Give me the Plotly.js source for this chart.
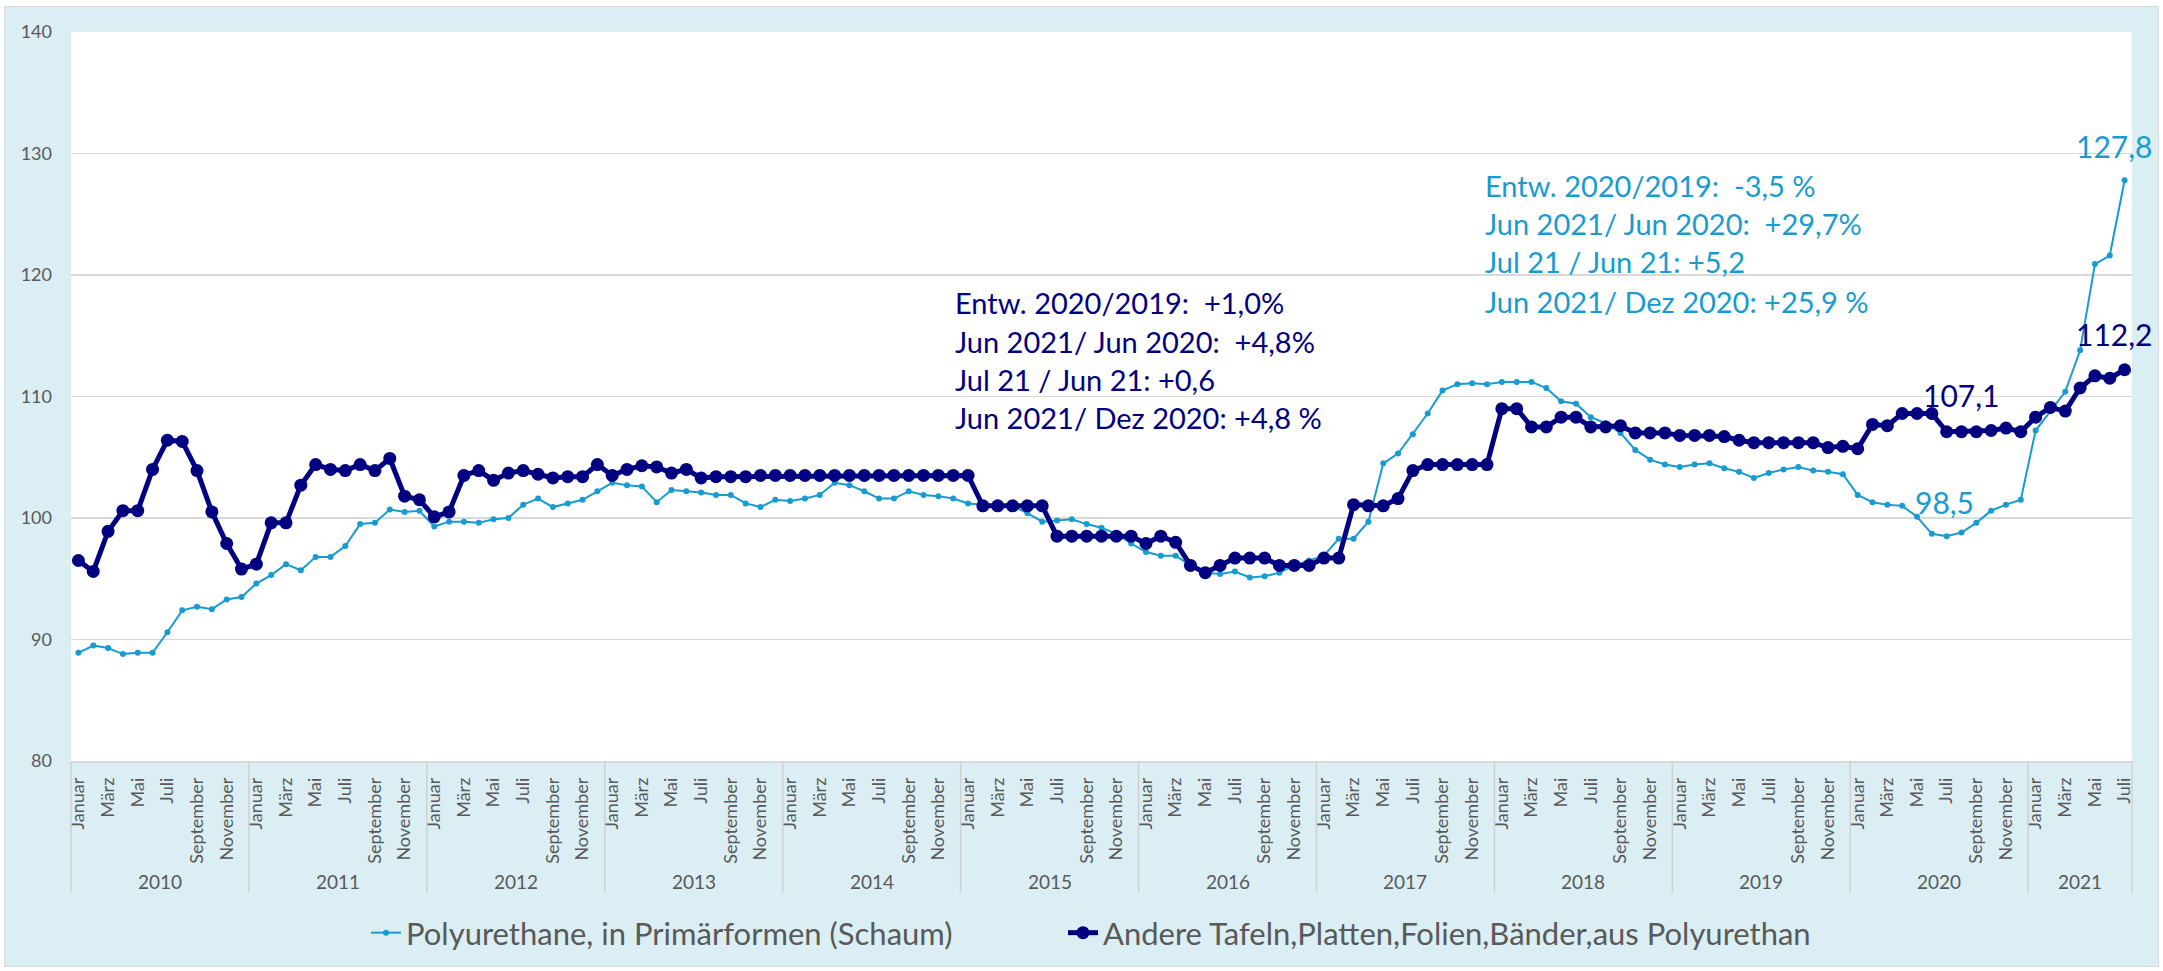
<!DOCTYPE html>
<html>
<head>
<meta charset="utf-8">
<script src="https://cdn.plot.ly/plotly-3.0.1.min.js"></script>
<style>
  html, body { margin: 0; padding: 0; background: #ffffff; }
  #bg { position: absolute; left: 4px; top: 6px; width: 2155px; height: 961px; background: #DAEEF3; border: 1.5px solid #D9D9D9; box-sizing: border-box; }
  #chart { position: absolute; left: 0; top: 0; width: 2163px; height: 971px; }
</style>
</head>
<body>
<div id="bg"></div>
<div id="chart"></div>
<script>
// ---------- data ----------
const years = [2010, 2011, 2012, 2013, 2014, 2015, 2016, 2017, 2018, 2019, 2020, 2021];
const monthsPerYear = [12, 12, 12, 12, 12, 12, 12, 12, 12, 12, 12, 7];
const monthNames = ['Januar', 'Februar', 'März', 'April', 'Mai', 'Juni', 'Juli', 'August', 'September', 'Oktober', 'November', 'Dezember'];

const seriesNames = ['Polyurethane, in Primärformen (Schaum)', 'Andere Tafeln,Platten,Folien,Bänder,aus Polyurethan'];

const polyurethaneSchaum = [
  88.9, 89.5, 89.3, 88.8, 88.9, 88.9, 90.6, 92.4, 92.7, 92.5, 93.3, 93.5,
  94.6, 95.3, 96.2, 95.7, 96.8, 96.8, 97.7, 99.5, 99.6, 100.7, 100.5, 100.6,
  99.3, 99.7, 99.7, 99.6, 99.9, 100.0, 101.1, 101.6, 100.9, 101.2, 101.5, 102.2,
  102.9, 102.7, 102.6, 101.3, 102.3, 102.2, 102.1, 101.9, 101.9, 101.2, 100.9, 101.5,
  101.4, 101.6, 101.9, 102.9, 102.7, 102.2, 101.6, 101.6, 102.2, 101.9, 101.8, 101.6,
  101.2, 101.1, 101.0, 101.0, 100.4, 99.7, 99.8, 99.9, 99.5, 99.2, 98.7, 97.9,
  97.2, 96.9, 96.9, 96.1, 95.5, 95.4, 95.6, 95.1, 95.2, 95.5, 96.1, 96.5,
  96.9, 98.3, 98.3, 99.7, 104.5, 105.3, 106.9, 108.6, 110.5, 111.0, 111.1, 111.0,
  111.2, 111.2, 111.2, 110.7, 109.6, 109.4, 108.3, 107.8, 107.0, 105.6, 104.8, 104.4,
  104.2, 104.4, 104.5, 104.1, 103.8, 103.3, 103.7, 104.0, 104.2, 103.9, 103.8, 103.6,
  101.9, 101.3, 101.1, 101.0, 100.1, 98.7, 98.5, 98.8, 99.6, 100.6, 101.1, 101.5,
  107.2, 108.8, 110.4, 113.8, 120.9, 121.6, 127.8
];

const andereTafeln = [
  96.5, 95.6, 98.9, 100.6, 100.6, 104.0, 106.4, 106.3, 103.9, 100.5, 97.9, 95.8,
  96.2, 99.6, 99.6, 102.7, 104.4, 104.0, 103.9, 104.4, 103.9, 104.9, 101.8, 101.5,
  100.1, 100.5, 103.5, 103.9, 103.1, 103.7, 103.9, 103.6, 103.3, 103.4, 103.4, 104.4,
  103.5, 104.0, 104.3, 104.2, 103.7, 104.0, 103.3, 103.4, 103.4, 103.4, 103.5, 103.5,
  103.5, 103.5, 103.5, 103.5, 103.5, 103.5, 103.5, 103.5, 103.5, 103.5, 103.5, 103.5,
  103.5, 101.0, 101.0, 101.0, 101.0, 101.0, 98.5, 98.5, 98.5, 98.5, 98.5, 98.5,
  97.9, 98.5, 98.0, 96.1, 95.5, 96.1, 96.7, 96.7, 96.7, 96.1, 96.1, 96.1,
  96.7, 96.7, 101.1, 101.0, 101.0, 101.6, 103.9, 104.4, 104.4, 104.4, 104.4, 104.4,
  109.0, 109.0, 107.5, 107.5, 108.3, 108.3, 107.5, 107.5, 107.6, 107.0, 107.0, 107.0,
  106.8, 106.8, 106.8, 106.7, 106.4, 106.2, 106.2, 106.2, 106.2, 106.2, 105.8, 105.9,
  105.7, 107.7, 107.6, 108.6, 108.6, 108.6, 107.1, 107.1, 107.1, 107.2, 107.4, 107.1,
  108.3, 109.1, 108.8, 110.7, 111.7, 111.5, 112.2
];

const noteDark = ['Entw. 2020/2019:  +1,0%', 'Jun 2021/ Jun 2020:  +4,8%', 'Jul 21 / Jun 21: +0,6', 'Jun 2021/ Dez 2020: +4,8 %'];
const noteLight = ['Entw. 2020/2019:  -3,5 %', 'Jun 2021/ Jun 2020:  +29,7%', 'Jul 21 / Jun 21: +5,2', 'Jun 2021/ Dez 2020: +25,9 %'];

// ---------- build categories ----------
const categories = [];
const tickvals = [];
const ticktext = [];
const yearStart = [];
years.forEach((y, yi) => {
  yearStart.push(categories.length);
  for (let m = 0; m < monthsPerYear[yi]; m++) {
    const c = monthNames[m] + ' ' + y;
    categories.push(c);
    if (m % 2 === 0) { tickvals.push(c); ticktext.push(monthNames[m]); }
  }
});
const N = categories.length;

// ---------- styling ----------
const W = 2163, H = 971;
const M = { l: 71, r: 31, t: 32, b: 209 };
const PW = W - M.l - M.r, PH = H - M.t - M.b;
const px = x => (x - M.l) / PW;
const py = y => (M.t + PH - y) / PH;

const FONT = 'Lato, "Open Sans", sans-serif';
const GREY = '#595959';
const LIGHT = '#179BD0';
const DARK = '#000080';
const fmt = v => v.toFixed(1).replace('.', ',');

const traces = [
  {
    x: categories, y: polyurethaneSchaum, name: seriesNames[0], type: 'scatter', mode: 'lines+markers',
    line: { color: LIGHT, width: 2 }, marker: { color: LIGHT, size: 6 }, legend: 'legend'
  },
  {
    x: categories, y: andereTafeln, name: seriesNames[1], type: 'scatter', mode: 'lines+markers',
    line: { color: DARK, width: 5 }, marker: { color: DARK, size: 13 }, legend: 'legend2'
  }
];

const annotations = [];
noteDark.forEach((t, k) => annotations.push({
  xref: 'paper', yref: 'paper', x: px(953), y: py([303, 342, 380, 418][k]),
  xanchor: 'left', yanchor: 'middle', showarrow: false, text: t,
  font: { family: FONT, size: 29, color: DARK }
}));
noteLight.forEach((t, k) => annotations.push({
  xref: 'paper', yref: 'paper', x: px(1483), y: py([186, 224, 262, 302][k]),
  xanchor: 'left', yanchor: 'middle', showarrow: false, text: t,
  font: { family: FONT, size: 29, color: LIGHT }
}));

// value labels
const lastI = N - 1;
const jul2020 = categories.indexOf('Juli 2020');
[
  { s: polyurethaneSchaum, i: lastI, c: LIGHT, dx: -11, dy: 34 },
  { s: andereTafeln, i: lastI, c: DARK, dx: -11, dy: 36 },
  { s: andereTafeln, i: jul2020, c: DARK, dx: 14, dy: 37 },
  { s: polyurethaneSchaum, i: jul2020, c: LIGHT, dx: -2, dy: 34 }
].forEach(o => annotations.push({
  xref: 'x', yref: 'y', x: categories[o.i], y: o.s[o.i], text: fmt(o.s[o.i]),
  showarrow: false, xshift: o.dx, yshift: o.dy,
  font: { family: FONT, size: 30, color: o.c }
}));

// year labels
years.forEach((y, yi) => annotations.push({
  xref: 'x', yref: 'paper', x: yearStart[yi] + (monthsPerYear[yi] - 1) / 2, y: py(883),
  text: String(y), showarrow: false, xanchor: 'center', yanchor: 'middle',
  font: { family: FONT, size: 19, color: GREY }
}));

// year dividers
const shapes = [];
yearStart.concat([N]).forEach(s => shapes.push({
  type: 'line', xref: 'paper', yref: 'paper', x0: s / N, x1: s / N, y0: 0, y1: py(894),
  line: { color: '#D0D0D0', width: 1.5 }
}));

const legendBase = {
  orientation: 'h', yanchor: 'middle', y: py(933), xanchor: 'left',
  font: { family: FONT, size: 31, color: GREY }, bgcolor: 'rgba(0,0,0,0)'
};

const layout = {
  width: W, height: H,
  margin: { l: M.l, r: M.r, t: M.t, b: M.b, pad: 0 },
  paper_bgcolor: 'rgba(0,0,0,0)',
  plot_bgcolor: '#ffffff',
  font: { family: FONT, color: GREY },
  showlegend: true,
  legend: Object.assign({}, legendBase, { x: px(408 - 42) }),
  legend2: Object.assign({}, legendBase, { x: px(1104 - 41) }),
  xaxis: {
    type: 'category', range: [-0.5, N - 0.5], tickmode: 'array', tickvals: tickvals, ticktext: ticktext,
    tickangle: -90, tickfont: { family: FONT, size: 18, color: GREY },
    showgrid: false, showline: true, linecolor: '#D9D9D9', linewidth: 1.5, ticks: '',
    ticklabelstandoff: 8, zeroline: false, fixedrange: true
  },
  yaxis: {
    range: [80, 140], dtick: 10, tick0: 80, tickfont: { family: FONT, size: 18, color: GREY },
    gridcolor: '#D9D9D9', gridwidth: 1.2, showline: false, zeroline: false, ticks: '',
    ticklabelstandoff: 18, fixedrange: true
  },
  annotations: annotations,
  shapes: shapes,
  hovermode: false
};

Plotly.newPlot('chart', traces, layout, { displayModeBar: false, staticPlot: true });
</script>
</body>
</html>
